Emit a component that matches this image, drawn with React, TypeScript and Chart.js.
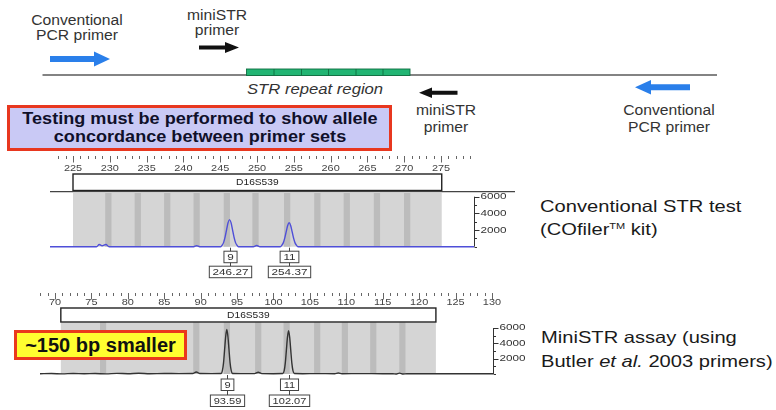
import React, { useEffect, useRef } from 'react';
import { Chart, registerables } from 'chart.js';
Chart.register(...registerables);

// ---------------- data ----------------
const locusName = 'D16S539';
const rfuTickLabels = [6000, 4000, 2000];

const convTickLabels = [225, 230, 235, 240, 245, 250, 255, 260, 265, 270, 275];
const convBins = [229.8, 233.8, 237.8, 241.8, 245.9, 249.8, 254.1, 258.2, 262.2, 266.3, 270.4];
const convTraceBp = [
  221.875, 228.2, 228.57, 228.95, 229.48, 229.9, 241.4, 241.8, 242.2,
  245.07, 245.27, 245.47, 245.67, 245.87, 246.07, 246.27, 246.47, 246.67, 246.87, 247.07, 247.27, 247.47,
  249.5, 249.96, 250.4,
  253.17, 253.37, 253.57, 253.77, 253.97, 254.17, 254.37, 254.57, 254.77, 254.97, 255.17, 255.37, 255.57,
  279.484,
];
const convTraceRfu = [
  0, 0, 270, 120, 260, 0, 0, 120, 0,
  0, 195, 520, 1170, 2050, 2890, 3250, 2890, 2050, 1170, 520, 195, 0,
  0, 150, 0,
  0, 170, 460, 1030, 1810, 2555, 2870, 2555, 1810, 1030, 460, 170, 0,
  0,
];
const convAlleles = ['9', '11'];
const convSizes = [246.27, 254.37];

const miniTickLabels = [70, 75, 80, 85, 90, 95, 100, 105, 110, 115, 120, 125, 130];
const miniBins = [76.6, 89.4, 93.6, 97.9, 101.8, 106.0, 109.8, 113.7, 117.7];
const miniTraceBp = [
  67.94, 69.5, 71, 72.5, 74, 75.5, 77, 78.5, 80, 81.5, 83, 85, 87, 88.9, 89.4, 89.9, 91.5,
  92.79, 92.99, 93.14, 93.29, 93.44, 93.59, 93.74, 93.89, 94.04, 94.19, 94.39,
  95.5, 97.4, 97.9, 98.4, 100,
  101.27, 101.47, 101.62, 101.77, 101.92, 102.07, 102.22, 102.37, 102.52, 102.67, 102.87,
  104, 106, 108.4, 108.9, 109.4, 112, 115, 116.4, 116.8, 117.3, 117.8, 118.3, 121, 125, 130.14,
];
const miniTraceRfu = [
  40, 60, 20, 70, 30, 60, 20, 80, 40, 90, 40, 70, 50, 60, 260, 60, 50,
  60, 460, 1450, 3190, 4930, 5800, 4930, 3190, 1450, 460, 60,
  50, 50, 220, 50, 40,
  60, 450, 1410, 3110, 4800, 5650, 4800, 3110, 1410, 450, 60,
  40, 50, 40, 130, 40, 50, 40, 40, 0, 120, 0, 40, 40, 40, 40,
];
const miniAlleles = ['9', '11'];
const miniSizes = [93.59, 102.07];

// ---------------- chart configs ----------------
const FONT = '"Liberation Sans", Arial, sans-serif';

const convCfg = {
  left: 40, top: 150, w: 480, h: 130,
  pad: { left: 10, right: 46, top: 46.7, bottom: 33.3 },
  xMin: 221.875, xMax: 279.484,
  region: [225, 275.1],
  ruler: [223, 279], rulerTop: 6, labelY: 18.3,
  boxTop: 24, boxBot: 40.5, hline: 41.7, grayTop: 43,
  ticks: convTickLabels, bins: convBins,
  bp: convTraceBp, rfu: convTraceRfu, color: '#4f4fd8',
  alleles: convAlleles, sizes: convSizes,
  alleleOff: 4.5, valueOff: 19.5, labelFont: 9,
};
const miniCfg = {
  left: 20, top: 280, w: 520, h: 130,
  pad: { left: 20, right: 47, top: 48, bottom: 36 },
  xMin: 67.94, xMax: 130.14,
  region: [70.8, 122.3],
  ruler: [68, 130], rulerTop: 13, labelY: 22,
  boxTop: 28, boxBot: 42, hline: null, grayTop: 42.5,
  ticks: miniTickLabels, bins: miniBins,
  bp: miniTraceBp, rfu: miniTraceRfu, color: '#333333',
  alleles: miniAlleles, sizes: miniSizes,
  alleleOff: 5, valueOff: 21, labelFont: 8.5,
};

function sText(ctx: CanvasRenderingContext2D, s: string, x: number, y: number, sx: number, align: CanvasTextAlign) {
  ctx.save();
  ctx.translate(x, y);
  ctx.scale(sx, 1);
  ctx.textAlign = align;
  ctx.fillText(s, 0, 0);
  ctx.restore();
}

function overlay(cfg: any) {
  return {
    id: 'epgOverlay',
    beforeDatasetsDraw(chart: any) {
      const { ctx, chartArea: a, scales } = chart;
      const px = (v: number) => scales.x.getPixelForValue(v);
      const py = (v: number) => scales.y.getPixelForValue(v);
      ctx.save();
      // gray bin region
      const g0 = px(cfg.region[0]), g1 = px(cfg.region[1]);
      ctx.fillStyle = '#d5d5d5';
      ctx.fillRect(g0, cfg.grayTop, g1 - g0, a.bottom - cfg.grayTop);
      ctx.fillStyle = '#bcbcbc';
      const bw = 0.85 * (px(1) - px(0));
      cfg.bins.forEach((b: number) => ctx.fillRect(px(b) - bw / 2, cfg.grayTop, bw, a.bottom - cfg.grayTop));
      // ruler
      ctx.strokeStyle = '#666';
      ctx.lineWidth = 1;
      for (let v = cfg.ruler[0]; v <= cfg.ruler[1]; v++) {
        const x = Math.round(px(v)) + 0.5;
        const len = v % 5 === 0 ? 6.5 : 3;
        ctx.beginPath();
        ctx.moveTo(x, cfg.rulerTop);
        ctx.lineTo(x, cfg.rulerTop + len);
        ctx.stroke();
      }
      ctx.fillStyle = '#444';
      ctx.font = `9.5px ${FONT}`;
      ctx.textBaseline = 'middle';
      cfg.ticks.forEach((t: number) => sText(ctx, String(t), px(t), cfg.labelY, 1.15, 'center'));
      // locus box
      ctx.fillStyle = '#fff';
      ctx.strokeStyle = '#222';
      ctx.lineWidth = 1.4;
      ctx.fillRect(g0, cfg.boxTop, g1 - g0, cfg.boxBot - cfg.boxTop);
      ctx.strokeRect(g0, cfg.boxTop, g1 - g0, cfg.boxBot - cfg.boxTop);
      ctx.fillStyle = '#222';
      ctx.font = `8.5px ${FONT}`;
      sText(ctx, locusName, (g0 + g1) / 2, (cfg.boxTop + cfg.boxBot) / 2 + 0.5, 1.2, 'center');
      if (cfg.hline !== null) {
        ctx.strokeStyle = '#444';
        ctx.lineWidth = 1.2;
        ctx.beginPath();
        ctx.moveTo(a.left, cfg.hline);
        ctx.lineTo(a.right + 41, cfg.hline);
        ctx.stroke();
      }
      // y axis on the right
      const ax = Math.round(a.right) + 0.5;
      ctx.strokeStyle = '#333';
      ctx.lineWidth = 1;
      ctx.beginPath();
      ctx.moveTo(ax, py(6000));
      ctx.lineTo(ax, py(0));
      ctx.stroke();
      for (let v = 0; v <= 6000; v += 1000) {
        const y = Math.round(py(v)) + 0.5;
        const len = v > 0 && v % 2000 === 0 ? 5 : 2.5;
        ctx.beginPath();
        ctx.moveTo(ax, y);
        ctx.lineTo(ax + len, y);
        ctx.stroke();
      }
      ctx.fillStyle = '#333';
      ctx.font = `9px ${FONT}`;
      rfuTickLabels.forEach((v) => sText(ctx, String(v), ax + 6, py(v), 1.3, 'left'));
      ctx.restore();
    },
    afterDatasetsDraw(chart: any) {
      const { ctx, chartArea: a, scales } = chart;
      ctx.save();
      ctx.font = `${cfg.labelFont}px ${FONT}`;
      ctx.textBaseline = 'middle';
      ctx.strokeStyle = '#444';
      ctx.lineWidth = 1;
      const bh = 11.5;
      cfg.sizes.forEach((s: number, i: number) => {
        const x = Math.round(scales.x.getPixelForValue(s)) + 0.5;
        const items = [
          { t: cfg.alleles[i], y: a.bottom + cfg.alleleOff },
          { t: s.toFixed(2), y: a.bottom + cfg.valueOff },
        ];
        ctx.beginPath();
        ctx.moveTo(x, a.bottom + 1);
        ctx.lineTo(x, items[1].y);
        ctx.stroke();
        items.forEach((it) => {
          const w = ctx.measureText(it.t).width * 1.3 + 6.6;
          ctx.fillStyle = '#fff';
          ctx.fillRect(x - w / 2, it.y, w, bh);
          ctx.strokeRect(x - w / 2, it.y, w, bh);
          ctx.fillStyle = '#333';
          sText(ctx, it.t, x, it.y + bh / 2 + 0.5, 1.3, 'center');
        });
      });
      ctx.restore();
    },
  };
}

function Electropherogram({ cfg }: { cfg: any }) {
  const ref = useRef<HTMLCanvasElement | null>(null);
  useEffect(() => {
    const chart = new Chart(ref.current as HTMLCanvasElement, {
      type: 'line',
      data: {
        datasets: [
          {
            data: cfg.bp.map((x: number, i: number) => ({ x, y: cfg.rfu[i] })),
            borderColor: cfg.color,
            borderWidth: 1.4,
            pointRadius: 0,
            fill: false,
            cubicInterpolationMode: 'monotone',
            clip: false as any,
          },
        ],
      },
      options: {
        responsive: false,
        animation: false,
        devicePixelRatio: 1,
        events: [],
        layout: { padding: cfg.pad },
        plugins: { legend: { display: false }, tooltip: { enabled: false }, title: { display: false } },
        scales: {
          x: { type: 'linear', min: cfg.xMin, max: cfg.xMax, display: false },
          y: { type: 'linear', min: 0, max: 6000, display: false },
        },
      },
      plugins: [overlay(cfg)],
    } as any);
    return () => chart.destroy();
  }, [cfg]);
  return (
    <canvas
      ref={ref}
      width={cfg.w}
      height={cfg.h}
      style={{ position: 'absolute', left: cfg.left, top: cfg.top, width: cfg.w, height: cfg.h }}
    />
  );
}

function Txt(props: any) {
  const { x, y, size, sx = 1, align = 'left', bold, italic, color = '#333', children } = props;
  const lh = size * 1.2;
  return (
    <div
      style={{
        position: 'absolute',
        left: x,
        top: y - lh / 2,
        fontSize: size,
        lineHeight: `${lh}px`,
        whiteSpace: 'nowrap',
        fontWeight: bold ? 700 : 400,
        fontStyle: italic ? 'italic' : 'normal',
        color,
        fontFamily: FONT,
        transformOrigin: align === 'center' ? 'center' : 'left',
        transform: align === 'center' ? `translateX(-50%) scaleX(${sx})` : `scaleX(${sx})`,
      }}
    >
      {children}
    </div>
  );
}

function arrowPts(x1: number, x2: number, y: number, shaft: number, head: number, hl: number, dir: 1 | -1) {
  if (dir === 1) {
    return [
      [x1, y - shaft / 2], [x2 - hl, y - shaft / 2], [x2 - hl, y - head / 2], [x2, y],
      [x2 - hl, y + head / 2], [x2 - hl, y + shaft / 2], [x1, y + shaft / 2],
    ].map((p) => p.join(',')).join(' ');
  }
  return [
    [x2, y - shaft / 2], [x1 + hl, y - shaft / 2], [x1 + hl, y - head / 2], [x1, y],
    [x1 + hl, y + head / 2], [x1 + hl, y + shaft / 2], [x2, y + shaft / 2],
  ].map((p) => p.join(',')).join(' ');
}

export default function App() {
  const blue = '#2a7fea';
  const dividers = [274, 301.5, 328.5, 356, 383];
  return (
    <div style={{ position: 'absolute', left: 0, top: 0, width: 776, height: 410, background: '#fff', overflow: 'hidden', fontFamily: FONT }}>
      <svg width={776} height={410} style={{ position: 'absolute', left: 0, top: 0 }}>
        <line x1={42.5} y1={75} x2={717} y2={75} stroke="#5a5a5a" strokeWidth={1.6} />
        <rect x={246.5} y={69} width={163.5} height={6.5} fill="#22b573" stroke="#0e6e40" strokeWidth={0.9} />
        {dividers.map((d) => (
          <line key={d} x1={d} y1={69} x2={d} y2={75.5} stroke="#0e6e40" strokeWidth={0.9} />
        ))}
        <polygon points={arrowPts(50, 110, 59, 6, 15, 16, 1)} fill={blue} />
        <polygon points={arrowPts(199, 239, 47.5, 4, 11, 14, 1)} fill="#111" />
        <polygon points={arrowPts(419, 457.5, 92.7, 4, 10.5, 13, -1)} fill="#111" />
        <polygon points={arrowPts(635, 690, 87.3, 6, 14.5, 16, -1)} fill={blue} />
      </svg>

      <Txt x={77} y={20} size={14} sx={1.12} align="center">Conventional</Txt>
      <Txt x={77} y={35.5} size={14} sx={1.12} align="center">PCR primer</Txt>
      <Txt x={217} y={15} size={14} sx={1.12} align="center">miniSTR</Txt>
      <Txt x={217} y={30.5} size={14} sx={1.12} align="center">primer</Txt>
      <Txt x={246.5} y={89.5} size={14} sx={1.19} italic>STR repeat region</Txt>
      <Txt x={446} y={110} size={14} sx={1.12} align="center">miniSTR</Txt>
      <Txt x={446} y={127} size={14} sx={1.12} align="center">primer</Txt>
      <Txt x={669} y={110} size={14} sx={1.12} align="center">Conventional</Txt>
      <Txt x={669} y={127} size={14} sx={1.12} align="center">PCR primer</Txt>

      <Electropherogram cfg={convCfg} />
      <Electropherogram cfg={miniCfg} />

      <div style={{ position: 'absolute', left: 7, top: 105, width: 385, height: 46, boxSizing: 'border-box', border: '3px solid #e8371f', background: '#c9c9f5' }} />
      <Txt x={199.5} y={119} size={16} sx={1.13} align="center" bold color="#10102a">Testing must be performed to show allele</Txt>
      <Txt x={199.5} y={136.5} size={16} sx={1.13} align="center" bold color="#10102a">concordance between primer sets</Txt>

      <div style={{ position: 'absolute', left: 14, top: 330, width: 173, height: 29.5, boxSizing: 'border-box', border: '3px solid #ea3a1c', background: '#ffff30' }} />
      <Txt x={100.5} y={344.5} size={20} align="center" bold color="#111">~150 bp smaller</Txt>

      <Txt x={540} y={207} size={16.5} sx={1.22} color="#1a1a1a">Conventional STR test</Txt>
      <Txt x={540} y={230} size={16.5} sx={1.22} color="#1a1a1a">
        (COfiler<span style={{ fontSize: 9, verticalAlign: 'super', lineHeight: 0 }}>TM</span> kit)
      </Txt>
      <Txt x={541} y={338} size={16.5} sx={1.22} color="#1a1a1a">MiniSTR assay (using</Txt>
      <Txt x={541} y={361.7} size={16.5} sx={1.22} color="#1a1a1a">
        Butler <i>et al.</i> 2003 primers)
      </Txt>
    </div>
  );
}
